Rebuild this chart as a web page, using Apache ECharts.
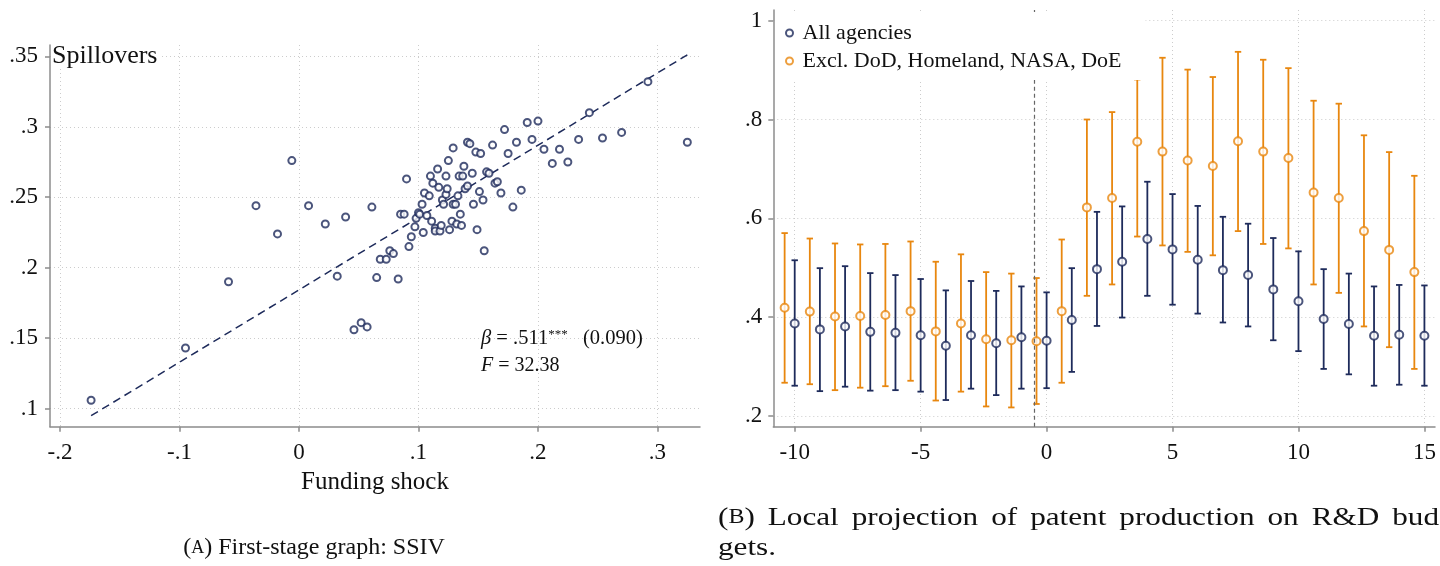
<!DOCTYPE html>
<html><head><meta charset="utf-8">
<script src="https://cdn.jsdelivr.net/npm/echarts@6/dist/echarts.min.js"></script>
<style>html,body{margin:0;padding:0;background:#fff}#c{width:1440px;height:566px}</style>
</head><body><div id="c"></div>
<script>
// ---------- Panel A data ----------
const shock = [-0.174,-0.095,-0.059,-0.036,-0.018,-0.006,0.008,0.022,0.039,0.032,0.046,0.052,0.057,0.061,0.065,0.068,0.073,0.076,0.079,0.083,0.085,0.088,0.090,0.092,0.094,0.097,0.098,0.100,0.101,0.103,0.104,0.105,0.107,0.109,0.110,0.111,0.112,0.114,0.114,0.116,0.117,0.118,0.119,0.120,0.121,0.123,0.123,0.124,0.125,0.126,0.128,0.129,0.129,0.131,0.132,0.133,0.134,0.135,0.136,0.137,0.138,0.139,0.141,0.141,0.143,0.145,0.146,0.148,0.149,0.151,0.152,0.154,0.155,0.157,0.159,0.162,0.164,0.166,0.169,0.172,0.175,0.179,0.182,0.186,0.191,0.195,0.200,0.205,0.212,0.218,0.225,0.234,0.243,0.254,0.270,0.292,0.325];
const spill = [0.106,0.143,0.190,0.244,0.224,0.276,0.244,0.231,0.236,0.194,0.156,0.161,0.158,0.243,0.193,0.206,0.206,0.212,0.210,0.192,0.238,0.238,0.263,0.215,0.222,0.229,0.235,0.239,0.238,0.245,0.225,0.253,0.237,0.251,0.265,0.233,0.260,0.228,0.226,0.270,0.257,0.226,0.230,0.248,0.245,0.252,0.265,0.256,0.276,0.227,0.233,0.285,0.245,0.245,0.231,0.251,0.265,0.238,0.230,0.265,0.272,0.256,0.258,0.289,0.288,0.267,0.245,0.282,0.227,0.254,0.281,0.248,0.212,0.268,0.267,0.287,0.260,0.261,0.253,0.298,0.281,0.243,0.289,0.255,0.303,0.291,0.304,0.284,0.274,0.284,0.275,0.291,0.310,0.292,0.296,0.332,0.289];
const fitX = [-0.174, 0.325];
const fitY = [0.095, 0.351];
const leftXTicks = [-0.2,-0.1,0,0.1,0.2,0.3];
const leftXLabels = ['-.2','-.1','0','.1','.2','.3'];
const leftYTicks = [0.1,0.15,0.2,0.25,0.3,0.35];
const leftYLabels = ['.1','.15','.2','.25','.3','.35'];

// ---------- Panel B data ----------
const horizons = [-10,-9,-8,-7,-6,-5,-4,-3,-2,-1,0,1,2,3,4,5,6,7,8,9,10,11,12,13,14,15];
const allEst = [0.387,0.375,0.381,0.370,0.368,0.363,0.342,0.363,0.347,0.359,0.352,0.394,0.497,0.512,0.558,0.537,0.516,0.495,0.485,0.456,0.432,0.396,0.386,0.362,0.364,0.362];
const allLo  = [0.261,0.250,0.259,0.251,0.252,0.249,0.232,0.255,0.242,0.255,0.256,0.289,0.382,0.399,0.443,0.425,0.407,0.389,0.381,0.353,0.331,0.295,0.284,0.261,0.263,0.261];
const allHi  = [0.515,0.499,0.503,0.489,0.485,0.477,0.454,0.473,0.453,0.462,0.450,0.499,0.613,0.624,0.674,0.649,0.625,0.603,0.589,0.560,0.533,0.497,0.488,0.462,0.465,0.464];
const exclEst = [0.419,0.411,0.401,0.402,0.404,0.412,0.371,0.387,0.355,0.353,0.351,0.412,0.622,0.641,0.755,0.735,0.717,0.706,0.756,0.735,0.722,0.652,0.641,0.574,0.536,0.491];
const exclLo  = [0.267,0.264,0.252,0.257,0.260,0.271,0.231,0.249,0.219,0.217,0.224,0.267,0.443,0.466,0.563,0.545,0.532,0.525,0.574,0.548,0.539,0.466,0.449,0.381,0.339,0.295];
const exclHi  = [0.570,0.559,0.549,0.547,0.548,0.553,0.512,0.527,0.491,0.488,0.479,0.557,0.800,0.815,0.881,0.925,0.901,0.886,0.937,0.921,0.904,0.838,0.832,0.768,0.734,0.686];
const rightXTicks = [-10,-5,0,5,10,15];
const rightXLabels = ['-10','-5','0','5','10','15'];
const rightYTicks = [0.2,0.4,0.6,0.8,1];
const rightYLabels = ['.2','.4','.6','.8','1'];
const eventTime = -0.5;
const seriesNames = ['All agencies','Excl. DoD, Homeland, NASA, DoE'];

// ---------- captions ----------
const capALabel = 'A', capAText = ' First-stage graph: SSIV';
const capBLabel = 'B';
const capBWords = ['Local','projection','of','patent','production','on','R&D','bud'];
const capBLine2 = 'gets.';

// ---------- styles ----------
const NAVY = '#1e2b5b', ORANGE = '#e8870f', AX = '#8c8c8c', GRID = '#cccccc', TXT = '#111';
const FONT = 'Liberation Serif';
const DODGE = -0.4;

function labelFor(ticks, labels){
  return function(v){ const i = ticks.findIndex(t => Math.abs(t - v) < 1e-9); return i >= 0 ? labels[i] : ''; };
}
function valAxis(o){
  return {
    type:'value', gridIndex:o.grid, min:o.min, max:o.max,
    name:o.name||'', nameLocation:'middle', nameGap:o.nameGap||0,
    nameTextStyle:{fontFamily:FONT, fontSize:25, color:TXT},
    axisLine:{show:true, onZero:false, lineStyle:{color:AX, width:1.5}},
    axisTick:{show:true, length:5, customValues:o.ticks, lineStyle:{color:AX, width:1.5}},
    axisLabel:{show:true, customValues:o.ticks, formatter:labelFor(o.ticks,o.labels), fontFamily:FONT, fontSize:23, color:TXT, margin:o.margin},
    splitLine:{show:true, lineStyle:{color:GRID, width:1, type:[1,3]}}
  };
}
function errBar(color){
  return function(params, api){
    const x = api.value(0), lo = api.value(1), hi = api.value(2);
    const a = api.coord([x, lo]), b = api.coord([x, hi]);
    const c = 3.2, st = {stroke:color, lineWidth:1.8};
    return {type:'group', children:[
      {type:'line', shape:{x1:a[0], y1:a[1], x2:b[0], y2:b[1]}, style:st},
      {type:'line', shape:{x1:a[0]-c, y1:a[1], x2:a[0]+c, y2:a[1]}, style:st},
      {type:'line', shape:{x1:b[0]-c, y1:b[1], x2:b[0]+c, y2:b[1]}, style:st}
    ]};
  };
}

// caption B: wider type (horizontally scaled), first line justified to the panel's right edge
const CAP_FS = 26, SC_FS = 20, CAP_SX = 1.2, CAPB_LEFT = 718, CAPB_RIGHT = 1439, CAPB_Y = 518;
const mctx = document.createElement('canvas').getContext('2d');
function tw(s, fs){ mctx.font = fs + 'px "' + FONT + '"'; return mctx.measureText(s).width * CAP_SX; }
const labW = tw('()', CAP_FS) + tw(capBLabel, SC_FS);
const wordW = capBWords.map(w => tw(w, CAP_FS));
const gap = (CAPB_RIGHT - CAPB_LEFT - labW - wordW.reduce((a,b)=>a+b,0)) / capBWords.length;
const capBGraphics = [{type:'text', x:CAPB_LEFT, y:CAPB_Y, scaleX:CAP_SX, z:100, style:{
  text:'({sc|' + capBLabel + '})', fontFamily:FONT, fontSize:CAP_FS, fill:TXT, align:'left', verticalAlign:'middle',
  rich:{sc:{fontFamily:FONT, fontSize:SC_FS, fill:TXT}}}}];
let cx = CAPB_LEFT + labW + gap;
capBWords.forEach((w,i) => {
  capBGraphics.push({type:'text', x:cx, y:CAPB_Y, scaleX:CAP_SX, z:100, style:{text:w, fontFamily:FONT, fontSize:CAP_FS, fill:TXT, align:'left', verticalAlign:'middle'}});
  cx += wordW[i] + gap;
});
capBGraphics.push({type:'text', x:CAPB_LEFT, y:548, scaleX:CAP_SX, z:100, style:{text:capBLine2, fontFamily:FONT, fontSize:CAP_FS, fill:TXT, align:'left', verticalAlign:'middle'}});

const chart = echarts.init(document.getElementById('c'), null, {renderer:'canvas'});
chart.setOption({
  animation:false,
  backgroundColor:'#fff',
  textStyle:{fontFamily:FONT},
  grid:[
    {left:50, top:45, width:650, height:381.7, outerBoundsMode:'none', containLabel:false},
    {left:773.3, top:10, width:661.7, height:416.7, outerBoundsMode:'none', containLabel:false}
  ],
  xAxis:[
    valAxis({grid:0, min:-0.2084, max:0.3356, ticks:leftXTicks, labels:leftXLabels, margin:15, name:'Funding shock', nameGap:38}),
    valAxis({grid:1, min:-10.85, max:15.42, ticks:rightXTicks, labels:rightXLabels, margin:15})
  ],
  yAxis:[
    valAxis({grid:0, min:0.0872, max:0.358, ticks:leftYTicks, labels:leftYLabels, margin:12}),
    valAxis({grid:1, min:0.178, max:1.0217, ticks:rightYTicks, labels:rightYLabels, margin:11})
  ],
  legend:{
    orient:'vertical', left:775, top:12, padding:[10,24,8,10],
    itemGap:6, itemWidth:10, itemHeight:7,
    backgroundColor:'#fff', z:10,
    textStyle:{fontFamily:FONT, fontSize:22, color:TXT, padding:[0,0,0,3]},
    data:[{name:seriesNames[0], icon:'emptyCircle'},{name:seriesNames[1], icon:'emptyCircle'}]
  },
  graphic:[
    {type:'text', left:52, top:43, z:100, style:{text:'Spillovers', fontFamily:FONT, fontSize:26, fill:TXT, backgroundColor:'#fff', padding:[0,2,0,0]}},
    {type:'text', left:481, top:328, z:100, style:{
      text:'{i|β} = .511{s|***}   (0.090)', fontFamily:FONT, fontSize:20.5, fill:TXT,
      rich:{i:{fontFamily:FONT, fontSize:20.5, fontStyle:'italic', fill:TXT}, s:{fontFamily:FONT, fontSize:13, verticalAlign:'top', fill:TXT}}}},
    {type:'text', left:481, top:356, z:100, style:{
      text:'{i|F} = 32.38', fontFamily:FONT, fontSize:20, fill:TXT,
      rich:{i:{fontFamily:FONT, fontSize:20, fontStyle:'italic', fill:TXT}}}},
    {type:'text', x:314, y:548, z:100, style:{
      text:'({sc|' + capALabel + '})' + capAText, fontFamily:FONT, fontSize:24, fill:TXT, align:'center', verticalAlign:'middle',
      rich:{sc:{fontFamily:FONT, fontSize:18, fill:TXT}}}}
  ].concat(capBGraphics),
  series:[
    {type:'scatter', name:'spill', xAxisIndex:0, yAxisIndex:0, symbol:'emptyCircle', symbolSize:7,
     itemStyle:{color:NAVY, borderWidth:1.5}, data:shock.map((x,i)=>[x, spill[i]]), z:3},
    {type:'line', name:'fit', xAxisIndex:0, yAxisIndex:0, showSymbol:false, symbol:'none',
     lineStyle:{color:NAVY, width:1.5, type:[8,5]}, data:fitX.map((x,i)=>[x, fitY[i]]), z:2},
    {type:'custom', name:'allCI', xAxisIndex:1, yAxisIndex:1, renderItem:errBar(NAVY),
     encode:{x:0, y:[1,2]}, data:horizons.map((h,i)=>[h, allLo[i], allHi[i]]), z:2},
    {type:'custom', name:'exclCI', xAxisIndex:1, yAxisIndex:1, renderItem:errBar(ORANGE),
     encode:{x:0, y:[1,2]}, data:horizons.map((h,i)=>[h+DODGE, exclLo[i], exclHi[i]]), z:2},
    {type:'scatter', name:seriesNames[0], xAxisIndex:1, yAxisIndex:1, symbol:'emptyCircle', symbolSize:8,
     itemStyle:{color:NAVY, borderWidth:1.8}, data:horizons.map((h,i)=>[h, allEst[i]]), z:3,
     markLine:{silent:true, symbol:'none', label:{show:false}, lineStyle:{color:'#666', type:[4,3], width:1.2},
       data:[{xAxis:eventTime}]}},
    {type:'scatter', name:seriesNames[1], xAxisIndex:1, yAxisIndex:1, symbol:'emptyCircle', symbolSize:8,
     itemStyle:{color:ORANGE, borderWidth:1.8}, data:horizons.map((h,i)=>[h+DODGE, exclEst[i]]), z:3}
  ]
});
</script></body></html>
